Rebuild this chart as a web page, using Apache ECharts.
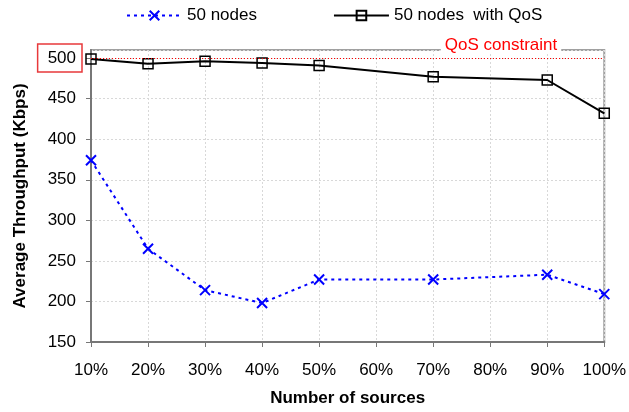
<!DOCTYPE html>
<html>
<head>
<meta charset="utf-8">
<script src="https://cdn.jsdelivr.net/npm/echarts@6/dist/echarts.min.js"></script>
<style>html,body{margin:0;padding:0;background:#fff;}#c{width:629px;height:412px;}</style>
</head>
<body>
<div id="c"></div>
<script>
const categories = ['10%','20%','30%','40%','50%','60%','70%','80%','90%','100%'];
const nodes50 = [374, 265, 214, 198, 227, null, 227, null, 233, 209];
const nodes50QoS = [499, 493, 496, 494, 491, null, 477, null, 473, 432];
const qosConstraint = 500;
const yTicks = { min: 150, max: 510, interval: 50 };

const FONT = 'Arial, "Liberation Sans", sans-serif';
const xSymbol = 'path://M0,0L10,10M10,0L0,10';

const chart = echarts.init(document.getElementById('c'), null, { renderer: 'canvas' });
chart.setOption({
  animation: false,
  backgroundColor: '#fff',
  textStyle: { fontFamily: FONT },
  legend: {
    top: 2,
    left: 121,
    itemWidth: 55,
    itemHeight: 12,
    itemGap: 76,
    textStyle: { fontSize: 17, color: '#000', fontFamily: FONT },
    data: ['50 nodes', '50 nodes  with QoS']
  },
  grid: {
    left: 91, right: 23, top: 50, bottom: 70,
    show: true, borderColor: '#a0a0a0', borderWidth: 2, backgroundColor: 'transparent'
  },
  xAxis: {
    type: 'category',
    data: categories,
    boundaryGap: false,
    name: 'Number of sources',
    nameLocation: 'middle',
    nameGap: 48,
    nameMoveOverlap: false,
    nameTextStyle: { fontSize: 17, fontWeight: 'bold', color: '#000', fontFamily: FONT },
    axisLine: { lineStyle: { color: '#777', width: 2 } },
    axisTick: { show: true, length: 5, lineStyle: { color: '#777', width: 1 } },
    axisLabel: { fontSize: 17, color: '#000', margin: 20, fontFamily: FONT },
    splitLine: { show: true, lineStyle: { color: '#d8d8d8', type: [2, 2], width: 1 } }
  },
  yAxis: {
    type: 'value',
    min: yTicks.min, max: yTicks.max, interval: yTicks.interval,
    name: 'Average Throughput (Kbps)',
    nameLocation: 'middle',
    nameGap: 62,
    nameMoveOverlap: false,
    nameTextStyle: { fontSize: 17, fontWeight: 'bold', color: '#000', fontFamily: FONT },
    axisLine: { show: true, lineStyle: { color: '#777', width: 2 } },
    axisTick: { show: true, length: 5, lineStyle: { color: '#777', width: 1 } },
    axisLabel: {
      fontSize: 17, color: '#000', margin: 9, fontFamily: FONT,
      showMaxLabel: false,
      formatter: function (v) {
        if (v % 50 !== 0) return '';
        return v === qosConstraint ? '{hl|' + v + '}' : '{n|' + v + '}';
      },
      rich: {
        n: { fontSize: 17, color: '#000', padding: [0, 6, 0, 0], fontFamily: FONT },
        hl: { fontSize: 17, color: '#000', borderColor: '#e8393b', borderWidth: 1.5,
              padding: [6, 6, 5, 10], fontFamily: FONT }
      }
    },
    splitLine: { show: true, lineStyle: { color: '#d8d8d8', type: [2, 2], width: 1 } }
  },
  series: [
    {
      name: '50 nodes',
      type: 'line',
      data: nodes50,
      connectNulls: true,
      symbol: xSymbol,
      symbolSize: 10,
      lineStyle: { color: '#0000ff', width: 2, type: [3, 4] },
      itemStyle: { color: '#0000ff', borderColor: '#0000ff', borderWidth: 2 },
      z: 3
    },
    {
      name: '50 nodes  with QoS',
      type: 'line',
      data: nodes50QoS,
      connectNulls: true,
      symbol: 'rect',
      symbolSize: 10,
      lineStyle: { color: '#000', width: 2 },
      itemStyle: { color: 'rgba(0,0,0,0)', borderColor: '#000', borderWidth: 1.5 },
      z: 4,
      markLine: {
        silent: true,
        symbol: 'none',
        lineStyle: { color: '#ff0000', type: [1, 2], width: 1 },
        label: {
          show: true,
          position: 'insideEndTop',
          formatter: 'QoS constraint',
          color: '#ff0000',
          fontSize: 17,
          fontFamily: FONT,
          backgroundColor: '#fff',
          padding: [0, 4, 0, 4],
          distance: [43, 4]
        },
        data: [{ yAxis: qosConstraint }]
      }
    }
  ]
});
</script>
</body>
</html>
